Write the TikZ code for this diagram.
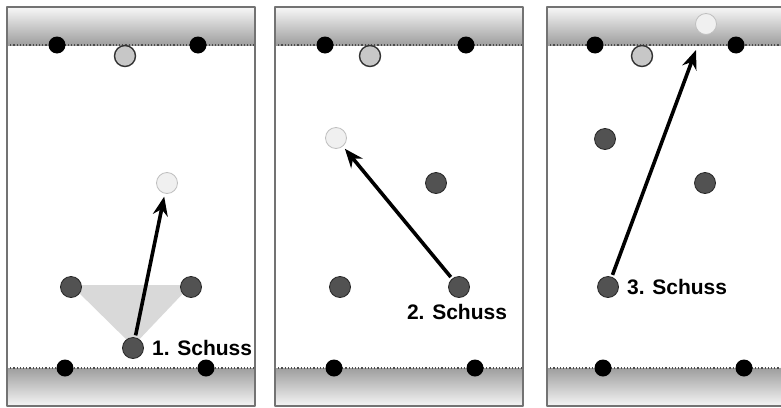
\documentclass[tikz,border=0pt]{standalone}
\usepackage{fontspec}
\setmainfont{Liberation Sans}
\usetikzlibrary{arrows.meta}
\begin{document}
\begin{tikzpicture}[x=1pt, y=-1pt, font=\bfseries\fontsize{21}{21}\selectfont, line join=round, line cap=round, >={Stealth[length=19pt, width=15pt]},
  hole/.style={circle, fill=black, minimum size=17pt, inner sep=0pt},
  ball/.style={circle, fill=black!68, draw=black!85, line width=0.8pt, minimum size=21pt, inner sep=0pt},
  old/.style={circle, fill=black!22, draw=black!80, line width=1.4pt, minimum size=21pt, inner sep=0pt},
  aim/.style={circle, fill=black!6, draw=black!25, line width=0.8pt, minimum size=21pt, inner sep=0pt},
  shot/.style={->, line width=3.6pt, line cap=butt, shorten >=3pt, shorten <=2pt}]
\useasboundingbox (0,0) rectangle (781,407);
\clip (0,0) rectangle (781,407);
% lanes
\foreach \px in {7,275,547} {
  \fill[white] (\px,7) rectangle (\px+248,406);
  \shade[top color=black!3, bottom color=black!38] (\px,7) rectangle (\px+248,45);
  \shade[top color=black!38, bottom color=black!4] (\px,368) rectangle (\px+248,406);
  \draw[black!70, dotted, line width=1.2pt, line cap=butt] (\px,45) -- (\px+248,45);
  \draw[black!70, dotted, line width=1.2pt, line cap=butt] (\px,368) -- (\px+248,368);
  \draw[black!55, line width=1.6pt] (\px,7) rectangle (\px+248,406);
}
% lane 1
\fill[black!15] (71,285) -- (191,285) -- (133,346) -- cycle;
\node[hole] (h1a) at (57,45) {};
\node[hole] (h1b) at (198,45) {};
\node[hole] (h1c) at (65,368) {};
\node[hole] (h1d) at (206,368) {};
\node[old] (o1) at (125,56) {};
\node[aim] (a1) at (167,183) {};
\node[ball] (b1a) at (71,287) {};
\node[ball] (b1b) at (191,287) {};
\node[ball] (b1c) at (133,348) {};
\draw[shot] (b1c) -- (a1);
\node[right, inner sep=0pt, xshift=8pt] at (b1c.east) {1. Schuss};
% lane 2
\node[hole] (h2a) at (325,45) {};
\node[hole] (h2b) at (466,45) {};
\node[hole] (h2c) at (334,368) {};
\node[hole] (h2d) at (475,368) {};
\node[old] (o2) at (370,56) {};
\node[aim] (a2) at (336,138) {};
\node[ball] (b2a) at (436,183) {};
\node[ball] (b2b) at (340,287) {};
\node[ball] (b2c) at (459,287) {};
\draw[shot] (b2c) -- (a2);
\node[below, inner sep=0pt, yshift=-6pt, xshift=-2pt] at (b2c.south) {2. Schuss};
% lane 3
\node[hole] (h3a) at (595,45) {};
\node[hole] (h3b) at (736,45) {};
\node[hole] (h3c) at (603,368) {};
\node[hole] (h3d) at (744,368) {};
\node[old] (o3) at (642,56) {};
\node[aim] (a3) at (706,24) {};
\node[ball] (b3a) at (605,139) {};
\node[ball] (b3b) at (705,183) {};
\node[ball] (b3c) at (608,287) {};
\coordinate (e3) at (696,50);
\draw[shot, shorten >=0pt] (b3c) -- (e3);
\node[right, inner sep=0pt, xshift=8pt] at (b3c.east) {3. Schuss};
\end{tikzpicture}
\end{document}
